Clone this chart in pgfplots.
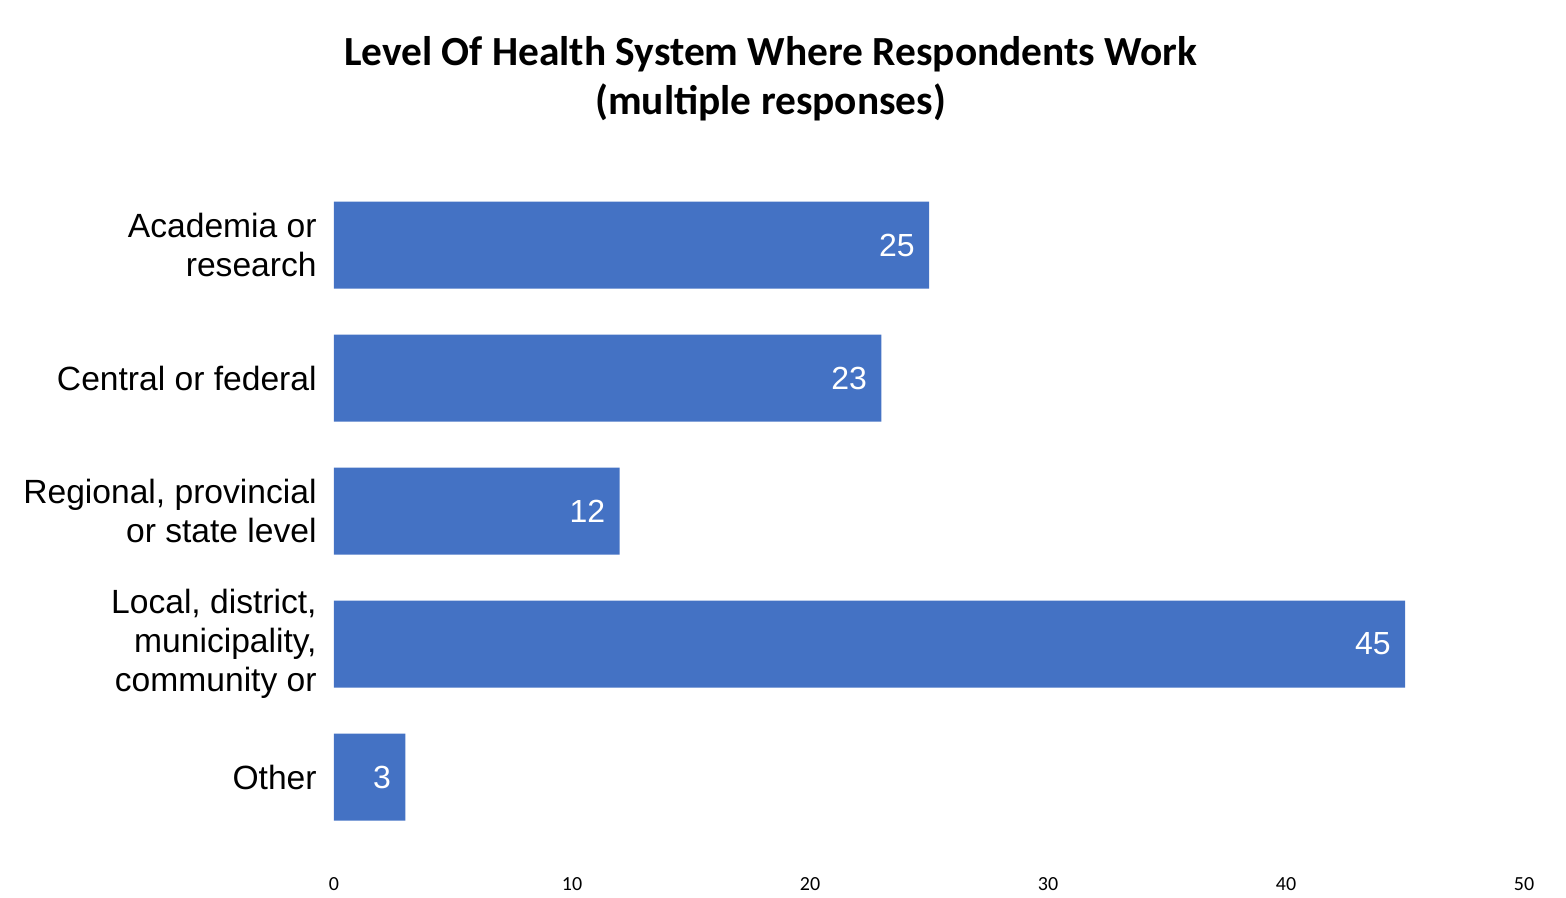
\documentclass[border=0pt]{standalone}
\usepackage{fontspec}
\setmainfont{Liberation Sans}
\newfontfamily\calibri{Carlito}
\usepackage{pgfplots}
\pgfplotsset{compat=1.18}
\definecolor{barblue}{HTML}{4472C4}

\begin{document}
\begin{tikzpicture}
\begin{axis}[
    xbar,
    y dir=reverse,
    scale only axis,
    width=595pt,
    height=332.5pt,
    xmin=0, xmax=50,
    ymin=-0.5, ymax=4.5,
    xtick={0,10,20,30,40,50},
    ytick={0,1,2,3,4},
    yticklabels={{Academia or\\research},{Central or federal},{Regional, provincial\\or state level},{Local, district,\\municipality,\\community or},{Other}},
    yticklabel style={align=right, font=\fontsize{16.8}{19.5}\selectfont, inner sep=0pt, xshift=-8.5pt},
    xticklabel style={font=\calibri\fontsize{10}{12}\selectfont, anchor=center, yshift=-20.25pt},
    /pgf/number format/assume math mode=true,
    axis line style={draw=none},
    major tick length=0pt,
    bar width=43.5pt,
    bar shift=0pt,
    nodes near coords,
    nodes near coords style={anchor=east, text=white, inner sep=0pt, xshift=-7pt, font=\fontsize{16}{19}\selectfont},
    title={Level Of Health System Where Respondents Work\\(multiple responses)},
    title style={at={(0.367,1.132)}, anchor=center, align=center, font=\calibri\bfseries\fontsize{20.7}{24.5}\selectfont},
    clip=false,
]
\addplot[fill=barblue, draw=none] coordinates {
    (25,0) (23,1) (12,2) (45,3) (3,4)
};
\end{axis}
\path[use as bounding box] ([shift={(-167pt,-24.25pt)}]current axis.south west) rectangle ([shift={(616pt,421.75pt)}]current axis.south west);
\end{tikzpicture}
\end{document}
